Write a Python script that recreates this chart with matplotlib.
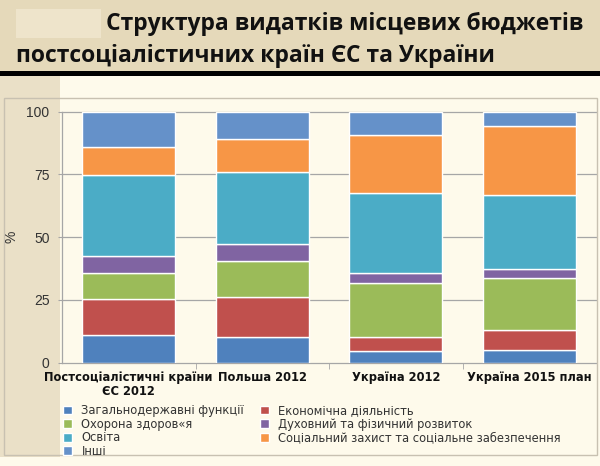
import matplotlib
matplotlib.use("Agg")
import matplotlib.pyplot as plt
from matplotlib.patches import Rectangle
import numpy as np

categories = ["Постсоціалістичні країни\nЄС 2012", "Польша 2012", "Україна 2012", "Україна 2015 план"]
series_names = ["Загальнодержавні функції", "Економічна діяльність", "Охорона здоров«я",
                "Духовний та фізичний розвиток", "Освіта",
                "Соціальний захист та соціальне забезпечення", "Інші"]
general   = [11.0, 10.4, 4.6, 5.0]
economy   = [14.2, 15.6, 5.8, 8.0]
health    = [10.5, 14.6, 21.2, 20.7]
culture   = [6.7, 6.5, 4.0, 3.5]
education = [32.4, 29.0, 32.1, 29.7]
social    = [11.1, 13.0, 23.0, 27.5]
other     = [14.1, 10.9, 9.3, 5.6]
yticks = [0, 25, 50, 75, 100]

series = [general, economy, health, culture, education, social, other]
colors = ["#4F81BD", "#C0504D", "#9BBB59", "#8064A2", "#4BACC6", "#F79646", "#6591C9"]

W, H = 600, 466
fig = plt.figure(figsize=(6, 4.66), dpi=100)
fig.patch.set_facecolor("#FEFAEB")

def rect(x0, y0, x1, y1, **kw):
    # pixel coords from top-left
    fig.add_artist(Rectangle((x0 / W, 1 - y1 / H), (x1 - x0) / W, (y1 - y0) / H,
                             transform=fig.transFigure, **kw))

rect(0, 0, 600, 71, facecolor="#E5D9BA", edgecolor="none", zorder=0)
rect(16, 9, 101, 38, facecolor="#EEE4CB", edgecolor="none", zorder=0)
rect(0, 71, 600, 76, facecolor="black", edgecolor="none", zorder=0)
rect(0, 76, 60, 457, facecolor="#EAE0C7", edgecolor="none", zorder=0)
rect(4, 98, 597, 455, facecolor="none", edgecolor="#C8C1B1", linewidth=1, zorder=1)

fig.text(106 / W, 1 - 30 / H, "Структура видатків місцевих бюджетів",
         fontsize=16.5, fontweight="bold", family="Open Sans", color="#111111",
         ha="left", va="baseline")
fig.text(16 / W, 1 - 62 / H, "постсоціалістичних країн ЄС та України",
         fontsize=16.5, fontweight="bold", family="Open Sans", color="#111111",
         ha="left", va="baseline")

ax = fig.add_axes([62 / W, 1 - 362.7 / H, (596 - 62) / W, (362.7 - 111.7) / H])
ax.set_facecolor("none")
x = np.arange(len(categories))
bottom = np.zeros(len(categories))
handles = []
for vals, col, name in zip(series, colors, series_names):
    b = ax.bar(x, vals, 0.70, bottom=bottom, color=col, edgecolor="white",
               linewidth=1.0, label=name, zorder=3)
    handles.append(b)
    bottom += np.array(vals)

ax.set_xlim(-0.5, 3.5)
ax.set_ylim(0, 100)
ax.set_yticks(yticks)
ax.set_yticklabels([str(t) for t in yticks], family="Liberation Sans", fontsize=10, color="#333333")
for t in yticks:
    ax.axhline(t, color="#A6A6A6", linewidth=0.9, zorder=1, clip_on=False)
for s in ["top", "right", "bottom"]:
    ax.spines[s].set_visible(False)
ax.spines["left"].set_color("#A6A6A6")
ax.spines["left"].set_linewidth(0.9)
ax.tick_params(axis="y", length=3, color="#A6A6A6", pad=6)
ax.set_xticks(x)
ax.set_xticklabels(categories, family="DejaVu Sans", fontweight="bold", fontsize=8.3,
                   color="#111111", linespacing=1.05)
ax.set_xticks([0.5, 1.5, 2.5], minor=True)
ax.tick_params(axis="x", which="major", length=0, pad=6)
ax.tick_params(axis="x", which="minor", length=4, color="#A6A6A6")

fig.text(12 / W, 1 - 237 / H, "%", rotation=90, family="Liberation Sans", fontsize=10,
         color="#333333", ha="center", va="center")

order = [0, 2, 4, 6, 1, 3, 5]
leg = fig.legend([handles[i] for i in order], [series_names[i] for i in order],
                 ncol=2, loc="upper left", bbox_to_anchor=(63 / W, 1 - 404 / H),
                 frameon=False, prop={"family": "DejaVu Sans", "size": 8.3},
                 handlelength=0.8, handleheight=0.8, handletextpad=0.8,
                 labelspacing=0.05, columnspacing=1.35, borderaxespad=0, borderpad=0)
for t in leg.get_texts():
    t.set_color("#333333")

fig.savefig("out.png", dpi=100, facecolor=fig.get_facecolor())
